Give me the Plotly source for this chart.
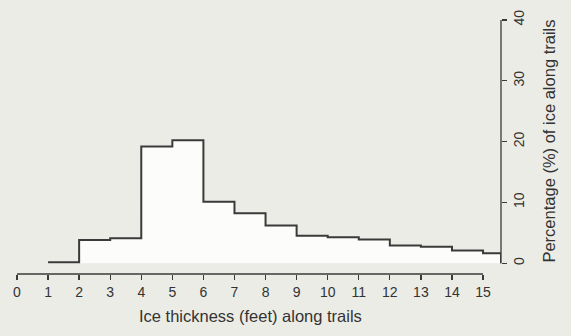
import plotly.graph_objects as go

# Data: ice thickness bins (feet) and percentage of ice along trails
bin_starts = [1, 2, 3, 4, 5, 6, 7, 8, 9, 10, 11, 12, 13, 14, 15]
percentages = [0.15, 3.8, 4.1, 19.2, 20.2, 10.1, 8.2, 6.2, 4.5, 4.25, 3.9, 2.9, 2.7, 2.1, 1.65]
last_edge = 15.58
x_tick_vals = list(range(0, 16))
y_tick_vals = [0, 10, 20, 30, 40]

BG = "#ecece6"
INK = "#3a3a3a"
TXT = "#333333"

xs = bin_starts + [last_edge, last_edge]
ys = percentages + [percentages[-1], 0]

fig = go.Figure()
fig.add_trace(go.Scatter(
    x=xs, y=ys, mode="lines", line_shape="hv",
    line=dict(color=INK, width=2),
    fill="tozeroy", fillcolor="#fcfcfa",
    hoverinfo="skip", showlegend=False,
))

fig.update_layout(
    width=571, height=336,
    margin=dict(l=10, r=70, t=10, b=62),
    paper_bgcolor=BG, plot_bgcolor=BG,
    font=dict(family="Liberation Sans, Arial, sans-serif", color=TXT, size=14),
    xaxis=dict(
        range=[-0.225, 15.578], showgrid=False, zeroline=False, showline=False,
        tickmode="array", tickvals=x_tick_vals, ticktext=[str(v) for v in x_tick_vals],
        ticks="outside", ticklen=5, tickwidth=1.3, tickcolor=INK,
        tickfont=dict(size=14, color=TXT),
    ),
    yaxis=dict(
        range=[-1.774, 40.806], side="right", showgrid=False, zeroline=False, showline=False,
        tickmode="array", tickvals=y_tick_vals, ticktext=[str(v) for v in y_tick_vals],
        ticks="outside", ticklen=5, tickwidth=1.3, tickcolor=INK,
        tickangle=-90, tickfont=dict(size=14, color=TXT),
    ),
    shapes=[
        dict(type="line", xref="x", yref="paper", x0=x_tick_vals[0], x1=x_tick_vals[-1], y0=0, y1=0,
             line=dict(color=INK, width=1.3)),
        dict(type="line", xref="paper", yref="y", x0=1, x1=1, y0=y_tick_vals[0], y1=y_tick_vals[-1],
             line=dict(color=INK, width=1.3)),
    ],
    annotations=[
        dict(text="Ice thickness (feet) along trails", xref="x", yref="paper",
             x=7.5, y=-0.163, showarrow=False, font=dict(size=16.5, color=TXT),
             xanchor="center", yanchor="middle"),
        dict(text="Percentage (%) of ice along trails", xref="paper", yref="y",
             x=1.0, xshift=48, y=20, showarrow=False, textangle=-90,
             font=dict(size=16.5, color=TXT), xanchor="center", yanchor="middle"),
    ],
)

fig.write_html(
    "out.html",
    config={"displayModeBar": False, "staticPlot": True},
    post_script="document.body.style.margin='0';document.body.style.background='%s';" % BG,
)
